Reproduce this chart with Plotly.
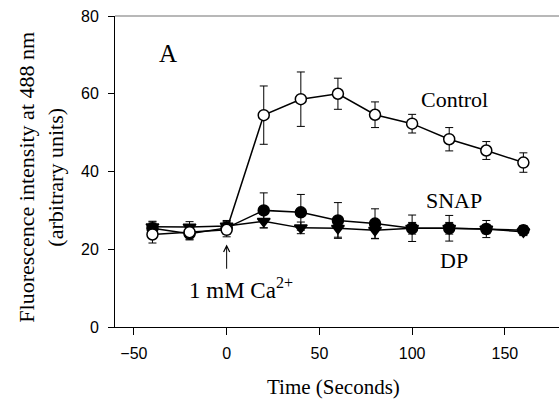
import plotly.graph_objects as go

time = [-40, -20, 0, 20, 40, 60, 80, 100, 120, 140, 160]
control = [23.8, 24.4, 25.0, 54.5, 58.6, 60.0, 54.6, 52.3, 48.3, 45.4, 42.3]
control_err = [2.2, 1.8, 1.8, 7.5, 7.0, 4.0, 3.3, 2.4, 3.0, 2.3, 2.5]
snap = [25.4, 24.0, 25.5, 30.0, 29.5, 27.4, 26.6, 25.4, 25.4, 25.2, 24.9]
snap_err = [1.6, 1.6, 1.6, 4.5, 4.6, 4.6, 3.8, 3.4, 3.3, 2.2, 1.2]
dp = [25.8, 25.7, 26.0, 27.2, 25.5, 25.4, 24.9, 25.4, 25.4, 25.2, 24.5]
dp_err = [1.4, 1.4, 1.4, 1.7, 1.5, 2.3, 2.2, 1.5, 1.5, 1.2, 1.0]

x_ticks = [-50, 0, 50, 100, 150]
y_ticks = [0, 20, 40, 60, 80]

serif = "Liberation Serif"
sans = "Liberation Sans"

fig = go.Figure()

def add(y, err, symbol, fill):
    fig.add_trace(go.Scatter(
        x=time, y=y, mode="lines+markers",
        line=dict(color="black", width=1.5),
        marker=dict(symbol=symbol, size=11, color=fill,
                    line=dict(color="black", width=1.5)),
        error_y=dict(type="data", array=err, visible=True,
                     color="black", thickness=1, width=4),
        showlegend=False, cliponaxis=False))

add(dp, dp_err, "triangle-down", "black")
add(snap, snap_err, "circle", "black")
add(control, control_err, "circle", "white")

ann = dict(showarrow=False, font=dict(family=serif, size=22, color="black"))
fig.add_annotation(x=-31.7, y=70.4, text="A", font=dict(family=serif, size=25, color="black"), showarrow=False)
fig.add_annotation(x=122.7, y=58.4, text="Control", **ann)
fig.add_annotation(x=122.7, y=32.6, text="SNAP", **ann)
fig.add_annotation(x=122.7, y=17.0, text="DP", **ann)
fig.add_annotation(x=7.8, y=10.0, text="1 mM Ca<sup>2+</sup>",
                   showarrow=False, font=dict(family=serif, size=23, color="black"))
fig.add_annotation(x=0, y=21.2, ax=0, ay=14.6, axref="x", ayref="y", text="",
                   showarrow=True, arrowhead=5, arrowsize=1.2, arrowwidth=1,
                   arrowcolor="black")

# axis titles
fig.add_annotation(xref="paper", yref="paper", x=0, y=0.48, xshift=-74,
                   text="Fluorescence intensity at 488 nm<br>(arbitrary units)",
                   textangle=-90, showarrow=False, xanchor="center", yanchor="middle",
                   font=dict(family=serif, size=22, color="black"))
fig.add_annotation(xref="paper", yref="paper", x=0.491, y=0, yshift=-60,
                   text="Time (Seconds)", showarrow=False,
                   xanchor="center", yanchor="middle",
                   font=dict(family=serif, size=21, color="black"))

fig.add_shape(type="line", xref="paper", yref="paper", x0=0, x1=1, y0=1, y1=1,
              line=dict(color="#a0a0a0", width=1.5))

fig.update_xaxes(range=[-60.2, 179.2], tickvals=x_ticks, ticks="outside", ticklen=7,
                 tickwidth=1, tickcolor="black", showline=True, linecolor="black",
                 linewidth=1, showgrid=False, zeroline=False, ticklabelstandoff=5,
                 tickfont=dict(family=sans, size=16, color="black"))
fig.update_yaxes(range=[0, 80], tickvals=y_ticks, ticks="outside", ticklen=6,
                 tickwidth=1, tickcolor="black", showline=True, linecolor="black",
                 linewidth=1, showgrid=False, zeroline=False, ticklabelstandoff=6,
                 tickfont=dict(family=sans, size=16, color="black"))

fig.update_layout(width=559, height=405, margin=dict(l=115, r=0, t=16, b=78),
                  paper_bgcolor="white", plot_bgcolor="white")

fig.write_html("out.html", config={"displayModeBar": False},
               post_script="document.body.style.margin='0';document.body.style.overflow='hidden';")
